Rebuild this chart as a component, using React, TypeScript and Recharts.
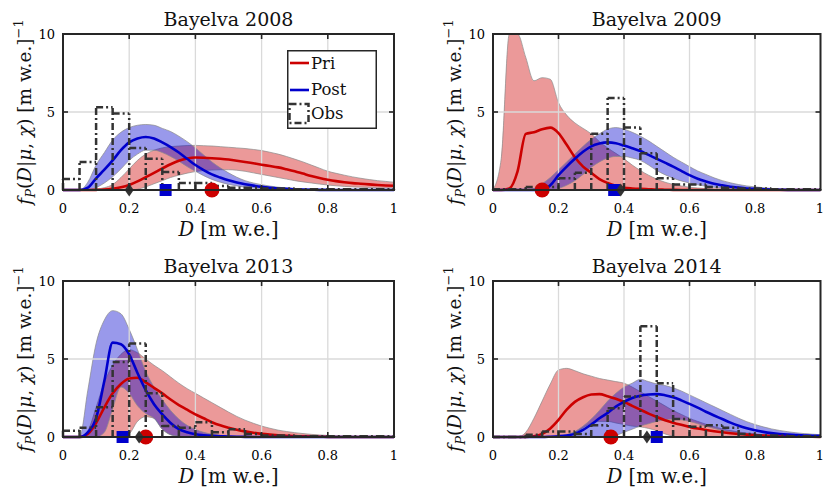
import React from "react";
import {
  ComposedChart,
  Area,
  Line,
  Scatter,
  XAxis,
  YAxis,
  ReferenceLine,
  Legend,
  Label,
} from "recharts";

// grid of D values the pdf curves are sampled on
const D = [0, 0.025, 0.05, 0.075, 0.1, 0.125, 0.15, 0.175, 0.2, 0.225, 0.25, 0.275, 0.3, 0.325, 0.35, 0.375, 0.4, 0.425, 0.45, 0.475, 0.5, 0.525, 0.55, 0.575, 0.6, 0.625, 0.65, 0.675, 0.7, 0.725, 0.75, 0.775, 0.8, 0.825, 0.85, 0.875, 0.9, 0.925, 0.95, 0.975, 1];
// histogram bin edges of the observations
const BIN_EDGES = [0, 0.05, 0.1, 0.15, 0.2, 0.25, 0.3, 0.35, 0.4, 0.45, 0.5, 0.55, 0.6, 0.65, 0.7, 0.75, 0.8, 0.85, 0.9, 0.95, 1];
const X_TICKS = [0, 0.2, 0.4, 0.6, 0.8, 1];
const Y_TICKS = [0, 5, 10];
const X_GRID = [0.2, 0.4, 0.6, 0.8];
const Y_GRID = [5];
const X_DOMAIN = [0, 1];
const Y_DOMAIN = [0, 10];

// ---- Bayelva 2008
const priMid08 = [0, 0, 0, 0, 0.01, 0.03, 0.08, 0.17, 0.32, 0.55, 0.82, 1.1, 1.38, 1.65, 1.88, 2.02, 2.08, 2.07, 2.04, 2.0, 1.95, 1.88, 1.8, 1.71, 1.62, 1.54, 1.45, 1.33, 1.2, 1.05, 0.9, 0.77, 0.66, 0.57, 0.5, 0.44, 0.4, 0.36, 0.32, 0.29, 0.27];
const priHi08 = [0, 0, 0, 0, 0.05, 0.15, 0.35, 0.8, 1.35, 1.9, 2.3, 2.55, 2.7, 2.78, 2.82, 2.85, 2.86, 2.84, 2.82, 2.78, 2.74, 2.7, 2.66, 2.6, 2.53, 2.42, 2.3, 2.15, 1.98, 1.8, 1.6, 1.4, 1.2, 1.07, 0.95, 0.84, 0.75, 0.67, 0.6, 0.55, 0.5];
const priLo08 = [0, 0, 0, 0, 0, 0, 0, 0, 0, 0.05, 0.2, 0.4, 0.6, 0.8, 0.95, 1.08, 1.18, 1.25, 1.28, 1.3, 1.3, 1.27, 1.2, 1.1, 1.0, 0.9, 0.8, 0.7, 0.6, 0.52, 0.45, 0.38, 0.32, 0.27, 0.23, 0.2, 0.18, 0.16, 0.14, 0.13, 0.12];
const postMid08 = [0, 0, 0, 0.15, 0.75, 1.3, 1.9, 2.55, 3.05, 3.3, 3.4, 3.3, 3.05, 2.75, 2.4, 2.0, 1.6, 1.28, 1.0, 0.8, 0.62, 0.48, 0.37, 0.28, 0.2, 0.14, 0.1, 0.07, 0.05, 0.03, 0.02, 0.01, 0.01, 0, 0, 0, 0, 0, 0, 0, 0];
const postHi08 = [0, 0, 0, 0.5, 1.6, 2.4, 3.2, 3.7, 4.0, 4.15, 4.2, 4.15, 3.95, 3.75, 3.45, 3.1, 2.7, 2.25, 1.8, 1.42, 1.1, 0.82, 0.6, 0.45, 0.34, 0.25, 0.18, 0.13, 0.09, 0.06, 0.04, 0.03, 0.02, 0.01, 0, 0, 0, 0, 0, 0, 0];
const postLo08 = [0, 0, 0, 0, 0.15, 0.45, 0.85, 1.35, 1.9, 2.3, 2.55, 2.55, 2.4, 2.15, 1.85, 1.5, 1.2, 0.92, 0.68, 0.5, 0.36, 0.26, 0.18, 0.12, 0.08, 0.05, 0.03, 0.02, 0.01, 0, 0, 0, 0, 0, 0, 0, 0, 0, 0, 0, 0];
const obs08 = [0.7, 1.8, 5.3, 4.9, 2.7, 2.0, 1.15, 0.45, 0.45, 0.25, 0.15, 0.15, 0.1, 0.1, 0.05, 0.05, 0.05, 0.05, 0.05, 0.05];

// ---- Bayelva 2009
const priMid09 = [0, 0, 0.1, 1.2, 3.6, 3.7, 3.9, 4.0, 3.65, 2.9, 2.1, 1.5, 1.1, 0.7, 0.45, 0.27, 0.15, 0.1, 0.07, 0.05, 0.03, 0.02, 0.01, 0, 0, 0, 0, 0, 0, 0, 0, 0, 0, 0, 0, 0, 0, 0, 0, 0, 0];
const priHi09 = [0, 2.0, 10, 10, 8.5, 7.0, 7.2, 7.1, 5.6, 4.8, 4.3, 3.95, 3.6, 3.1, 2.7, 2.35, 2.0, 1.6, 1.25, 0.95, 0.7, 0.5, 0.36, 0.26, 0.18, 0.13, 0.09, 0.06, 0.04, 0.03, 0.02, 0.01, 0, 0, 0, 0, 0, 0, 0, 0, 0];
const priLo09 = [0, 0, 0, 0, 0, 0, 0, 0, 0, 0, 0, 0, 0, 0, 0, 0, 0, 0, 0, 0, 0, 0, 0, 0, 0, 0, 0, 0, 0, 0, 0, 0, 0, 0, 0, 0, 0, 0, 0, 0, 0];
const postMid09 = [0, 0, 0, 0, 0, 0, 0, 0.3, 0.95, 1.5, 2.0, 2.45, 2.8, 2.98, 3.05, 3.0, 2.85, 2.68, 2.5, 2.25, 2.0, 1.75, 1.5, 1.22, 0.95, 0.72, 0.55, 0.4, 0.3, 0.21, 0.15, 0.1, 0.07, 0.05, 0.03, 0.02, 0.01, 0, 0, 0, 0];
const postHi09 = [0, 0, 0, 0, 0, 0.1, 0.4, 0.8, 1.3, 1.8, 2.3, 2.8, 3.25, 3.6, 3.9, 4.0, 3.9, 3.7, 3.45, 3.15, 2.8, 2.45, 2.1, 1.8, 1.5, 1.22, 1.0, 0.78, 0.6, 0.46, 0.35, 0.26, 0.2, 0.15, 0.1, 0.07, 0.05, 0.03, 0.02, 0.01, 0.01];
const postLo09 = [0, 0, 0, 0, 0, 0, 0, 0, 0.1, 0.3, 0.6, 1.0, 1.45, 1.8, 2.05, 2.15, 2.15, 2.05, 1.9, 1.6, 1.25, 0.98, 0.76, 0.58, 0.45, 0.33, 0.24, 0.17, 0.12, 0.08, 0.05, 0.03, 0.02, 0.01, 0, 0, 0, 0, 0, 0, 0];
const obs09 = [0.05, 0.05, 0.2, 0.2, 0.75, 1.1, 3.6, 5.9, 4.0, 2.35, 0.75, 0.35, 0.35, 0.2, 0.15, 0.1, 0.1, 0.05, 0.05, 0.05];

// ---- Bayelva 2013
const priMid13 = [0, 0, 0, 0.2, 0.9, 1.9, 2.8, 3.4, 3.75, 3.8, 3.5, 3.15, 2.8, 2.4, 2.05, 1.75, 1.45, 1.2, 0.95, 0.75, 0.6, 0.47, 0.36, 0.27, 0.2, 0.15, 0.11, 0.08, 0.06, 0.04, 0.03, 0.02, 0.01, 0, 0, 0, 0, 0, 0, 0, 0];
const priHi13 = [0, 0, 0, 0.4, 1.9, 3.5, 4.6, 5.3, 5.6, 5.4, 5.0, 4.6, 4.25, 3.85, 3.45, 3.1, 2.8, 2.5, 2.2, 1.9, 1.6, 1.32, 1.08, 0.88, 0.7, 0.56, 0.44, 0.35, 0.28, 0.22, 0.17, 0.13, 0.1, 0.07, 0.05, 0.04, 0.03, 0.02, 0.01, 0, 0];
const priLo13 = [0, 0, 0, 0, 0, 0, 0, 0, 0.2, 1.0, 1.3, 1.2, 0.5, 0.15, 0.05, 0, 0, 0, 0, 0, 0, 0, 0, 0, 0, 0, 0, 0, 0, 0, 0, 0, 0, 0, 0, 0, 0, 0, 0, 0, 0];
const postMid13 = [0, 0, 0, 0.3, 1.2, 3.6, 6.05, 5.95, 5.3, 4.1, 3.0, 2.1, 1.45, 0.9, 0.5, 0.3, 0.18, 0.11, 0.07, 0.05, 0.03, 0.02, 0.01, 0, 0, 0, 0, 0, 0, 0, 0, 0, 0, 0, 0, 0, 0, 0, 0, 0, 0];
const postHi13 = [0, 0, 0, 3.0, 6.0, 7.5, 8.1, 7.9, 6.9, 5.6, 4.2, 3.2, 2.4, 1.7, 1.15, 0.75, 0.48, 0.3, 0.18, 0.11, 0.07, 0.04, 0.02, 0.01, 0, 0, 0, 0, 0, 0, 0, 0, 0, 0, 0, 0, 0, 0, 0, 0, 0];
const postLo13 = [0, 0, 0, 0, 0, 0.3, 1.8, 3.2, 2.8, 2.0, 1.5, 1.2, 0.5, 0.15, 0.05, 0, 0, 0, 0, 0, 0, 0, 0, 0, 0, 0, 0, 0, 0, 0, 0, 0, 0, 0, 0, 0, 0, 0, 0, 0, 0];
const obs13 = [0.4, 0.6, 1.9, 4.8, 6.0, 2.8, 0.7, 0.6, 0.95, 0.3, 0.5, 0.2, 0.1, 0.1, 0.05, 0.05, 0.05, 0.05, 0.05, 0.05];

// ---- Bayelva 2014
const priMid14 = [0, 0, 0, 0, 0, 0.05, 0.2, 0.55, 1.1, 1.75, 2.25, 2.55, 2.72, 2.75, 2.62, 2.45, 2.25, 2.0, 1.75, 1.5, 1.28, 1.08, 0.92, 0.78, 0.65, 0.54, 0.45, 0.37, 0.3, 0.24, 0.19, 0.15, 0.12, 0.09, 0.07, 0.05, 0.04, 0.03, 0.02, 0.02, 0.01];
const priHi14 = [0, 0, 0, 0, 0.3, 1.2, 2.3, 3.4, 4.3, 4.4, 4.25, 4.05, 3.9, 3.75, 3.65, 3.55, 3.45, 3.2, 2.9, 2.6, 2.3, 2.0, 1.7, 1.45, 1.2, 1.0, 0.82, 0.66, 0.52, 0.41, 0.32, 0.25, 0.19, 0.14, 0.1, 0.07, 0.05, 0.04, 0.03, 0.02, 0.01];
const priLo14 = [0, 0, 0, 0, 0, 0, 0, 0, 0, 0.1, 0.3, 0.6, 0.9, 1.0, 1.0, 0.9, 0.8, 0.7, 0.65, 0.55, 0.4, 0.2, 0.05, 0, 0, 0, 0, 0, 0, 0, 0, 0, 0, 0, 0, 0, 0, 0, 0, 0, 0];
const postMid14 = [0, 0, 0, 0, 0, 0, 0, 0.02, 0.05, 0.1, 0.2, 0.45, 0.8, 1.2, 1.55, 1.95, 2.25, 2.5, 2.65, 2.72, 2.75, 2.68, 2.55, 2.35, 2.12, 1.88, 1.62, 1.38, 1.15, 0.92, 0.72, 0.56, 0.43, 0.33, 0.25, 0.19, 0.15, 0.12, 0.1, 0.08, 0.07];
const postHi14 = [0, 0, 0, 0, 0, 0, 0, 0.02, 0.05, 0.15, 0.35, 0.7, 1.15, 1.7, 2.3, 2.8, 3.2, 3.45, 3.7, 3.55, 3.4, 3.3, 3.15, 2.95, 2.7, 2.45, 2.2, 1.95, 1.7, 1.45, 1.2, 0.98, 0.8, 0.65, 0.52, 0.42, 0.34, 0.27, 0.22, 0.18, 0.15];
const postLo14 = [0, 0, 0, 0, 0, 0, 0, 0, 0, 0, 0, 0, 0, 0, 0, 0.1, 0.3, 0.5, 0.7, 0.85, 1.0, 1.1, 1.15, 1.1, 1.0, 0.85, 0.7, 0.55, 0.42, 0.32, 0.24, 0.17, 0.12, 0.08, 0.05, 0.03, 0.02, 0.01, 0, 0, 0];
const obs14 = [0, 0, 0.15, 0.35, 0.35, 0.2, 0.75, 1.85, 2.6, 7.1, 3.45, 1.15, 0.65, 0.75, 0.6, 0.2, 0.1, 0.1, 0.05, 0.05];

// medians shown as markers on the D axis: [prior, posterior, observed]
const medians08 = [0.45, 0.31, 0.2];
const medians09 = [0.15, 0.37, 0.39];
const medians13 = [0.25, 0.18, 0.23];
const medians14 = [0.36, 0.5, 0.47];

const RED = "#cc0000";
const BLUE = "#0000cc";
const INK = "#262626";
const HIST = "#333333";
const GRID = "#dadada";
const FONT = "'DejaVu Serif', serif";
const DASH = "7 3 2 3";
const TICK_PX = 5;

const PANELS = [
  { title: "Bayelva 2008", priMid: priMid08, priHi: priHi08, priLo: priLo08, postMid: postMid08, postHi: postHi08, postLo: postLo08, obs: obs08, med: medians08 },
  { title: "Bayelva 2009", priMid: priMid09, priHi: priHi09, priLo: priLo09, postMid: postMid09, postHi: postHi09, postLo: postLo09, obs: obs09, med: medians09 },
  { title: "Bayelva 2013", priMid: priMid13, priHi: priHi13, priLo: priLo13, postMid: postMid13, postHi: postHi13, postLo: postLo13, obs: obs13, med: medians13 },
  { title: "Bayelva 2014", priMid: priMid14, priHi: priHi14, priLo: priLo14, postMid: postMid14, postHi: postHi14, postLo: postLo14, obs: obs14, med: medians14 },
];

// histogram outline: every bin edge once, then every bin top, split by nulls
function histSegments(h: number[]) {
  const rows: { x: number; y: number | null }[] = [];
  BIN_EDGES.forEach((e, i) => {
    const top = Math.max(h[i - 1] ?? 0, h[i] ?? 0);
    rows.push({ x: e, y: 0 }, { x: e, y: top }, { x: e, y: null });
  });
  h.forEach((v, i) => {
    rows.push({ x: BIN_EDGES[i], y: v }, { x: BIN_EDGES[i + 1], y: v }, { x: BIN_EDGES[i + 1], y: null });
  });
  return rows;
}

const circleShape = (p: any) => <circle cx={p.cx} cy={p.cy} r={7.5} fill={RED} />;
const squareShape = (p: any) => <rect x={p.cx - 6} y={p.cy - 6} width={12} height={12} fill={BLUE} />;
const diamondShape = (p: any) => (
  <polygon
    points={`${p.cx},${p.cy - 6.5} ${p.cx + 4.5},${p.cy} ${p.cx},${p.cy + 6.5} ${p.cx - 4.5},${p.cy}`}
    fill={HIST}
  />
);

const xTick = (props: any) => (
  <text x={props.x} y={props.y} dy="0.71em" textAnchor="middle" fontFamily={FONT} fontSize={13} fill="#000">
    {props.payload.value}
  </text>
);
const yTick = (props: any) => (
  <text x={props.x} y={props.y} dy="0.355em" textAnchor="end" fontFamily={FONT} fontSize={13} fill="#000">
    {props.payload.value}
  </text>
);

const TitleLabel = (title: string) => (props: any) => {
  const vb = props.viewBox;
  return (
    <text x={vb.x + vb.width / 2} y={vb.y - 8} textAnchor="middle" fontFamily={FONT} fontSize={19} fill="#111">
      {title}
    </text>
  );
};

const XTitle = (props: any) => {
  const vb = props.viewBox;
  return (
    <text x={vb.x + vb.width / 2} y={vb.y + 46} textAnchor="middle" fontFamily={FONT} fontSize={19.5} fill="#111">
      <tspan fontStyle="italic">D</tspan>
      <tspan>{" [m w.e.]"}</tspan>
    </text>
  );
};

const YTitle = (props: any) => {
  const vb = props.viewBox;
  const X = vb.x + vb.width - 32;
  const Y = vb.y + vb.height / 2;
  return (
    <text x={X} y={Y} transform={`rotate(-90 ${X} ${Y})`} textAnchor="middle" fontFamily={FONT} fontSize={18.5} fill="#111">
      <tspan fontStyle="italic">f</tspan>
      <tspan fontStyle="italic" fontSize={13} dy={4}>P</tspan>
      <tspan dy={-4}>(</tspan>
      <tspan fontStyle="italic">D</tspan>
      <tspan>|</tspan>
      <tspan fontStyle="italic">μ</tspan>
      <tspan>{", "}</tspan>
      <tspan fontStyle="italic">χ</tspan>
      <tspan>{") [m w.e.]"}</tspan>
      <tspan fontSize={13} dy={-8}>−1</tspan>
    </text>
  );
};

const LegendBox = () => (
  <svg width={90} height={79} style={{ display: "block" }}>
    <rect x={0.75} y={0.75} width={88.5} height={77.5} fill="#fff" stroke={INK} strokeWidth={1.5} />
    <line x1={3} x2={22} y1={13} y2={13} stroke={RED} strokeWidth={2.6} />
    <text x={24} y={18.5} fontFamily={FONT} fontSize={16.5} fill="#111">Pri</text>
    <line x1={3} x2={22} y1={40} y2={40} stroke={BLUE} strokeWidth={2.6} />
    <text x={24} y={45} fontFamily={FONT} fontSize={16.5} fill="#111">Post</text>
    <rect x={2.5} y={54} width={19} height={19} fill="none" stroke={HIST} strokeWidth={2.5} strokeDasharray={DASH} />
    <text x={24} y={69} fontFamily={FONT} fontSize={16.5} fill="#111">Obs</text>
  </svg>
);

// axes box with inward ticks, laid over the plot rectangle of a panel
function FrameOverlay({ x0, y0, w, h, chartW, chartH }: { x0: number; y0: number; w: number; h: number; chartW: number; chartH: number }) {
  const fx = (v: number) => x0 + ((v - X_DOMAIN[0]) / (X_DOMAIN[1] - X_DOMAIN[0])) * w;
  const fy = (v: number) => y0 + h - ((v - Y_DOMAIN[0]) / (Y_DOMAIN[1] - Y_DOMAIN[0])) * h;
  return (
    <svg
      width={chartW}
      height={chartH}
      style={{ position: "absolute", left: 0, top: 0, pointerEvents: "none", overflow: "visible" }}
    >
      <g stroke={INK} strokeWidth={1.6}>
        {X_GRID.map((v) => (
          <g key={`x${v}`}>
            <line x1={fx(v)} x2={fx(v)} y1={y0 + h} y2={y0 + h - TICK_PX} />
            <line x1={fx(v)} x2={fx(v)} y1={y0} y2={y0 + TICK_PX} />
          </g>
        ))}
        {Y_GRID.map((v) => (
          <g key={`y${v}`}>
            <line x1={x0} x2={x0 + TICK_PX} y1={fy(v)} y2={fy(v)} />
            <line x1={x0 + w - TICK_PX} x2={x0 + w} y1={fy(v)} y2={fy(v)} />
          </g>
        ))}
      </g>
      <rect x={x0} y={y0} width={w} height={h} fill="none" stroke={INK} strokeWidth={2} />
    </svg>
  );
}

function Panel({ idx }: { idx: number }) {
  const p = PANELS[idx];
  const left = idx % 2 === 0;
  const top = idx < 2;

  const chartW = 412;
  const chartH = top ? 245 : 246;
  const yAxisW = left ? 63 : 81;
  const xAxisH = top ? 55 : 54;
  const margin = { top: top ? 34 : 36, right: left ? 18 : 3.5, bottom: 0, left: 0 };
  const plotW = chartW - yAxisW - margin.right;
  const plotH = chartH - xAxisH - margin.top;

  const rows = D.map((x, i) => ({
    x,
    pri: [p.priLo[i], p.priHi[i]],
    priMid: p.priMid[i],
    post: [p.postLo[i], p.postHi[i]],
    postMid: p.postMid[i],
  }));
  const hist = histSegments(p.obs);

  return (
    <div style={{ position: "relative", width: chartW, height: chartH }}>
      <ComposedChart width={chartW} height={chartH} data={rows} margin={margin}>
        {X_GRID.map((v) => (
          <ReferenceLine key={`gx${v}`} x={v} stroke={GRID} strokeWidth={1.3} />
        ))}
        {Y_GRID.map((v) => (
          <ReferenceLine key={`gy${v}`} y={v} stroke={GRID} strokeWidth={1.3} />
        ))}
        <ReferenceLine y={Y_DOMAIN[1]} stroke="none" label={TitleLabel(p.title)} />

        <Area dataKey="pri" type="monotone" fill={RED} fillOpacity={0.4} stroke="#8a8a8a" strokeWidth={0.7} isAnimationActive={false} />
        <Area dataKey="post" type="monotone" fill={BLUE} fillOpacity={0.4} stroke="#8a8a8a" strokeWidth={0.7} isAnimationActive={false} />
        <Line dataKey="priMid" type="monotone" stroke={RED} strokeWidth={2.6} dot={false} isAnimationActive={false} />
        <Line dataKey="postMid" type="monotone" stroke={BLUE} strokeWidth={2.6} dot={false} isAnimationActive={false} />
        <Line
          data={hist}
          dataKey="y"
          type="linear"
          stroke={HIST}
          strokeWidth={2.5}
          strokeDasharray={DASH}
          dot={false}
          connectNulls={false}
          isAnimationActive={false}
        />

        <XAxis
          dataKey="x"
          type="number"
          domain={X_DOMAIN}
          ticks={X_TICKS}
          height={xAxisH}
          tickSize={-5}
          tickMargin={19}
          axisLine={false}
          tickLine={false}
          tick={xTick}
        >
          <Label content={XTitle} />
        </XAxis>
        <YAxis
          type="number"
          domain={Y_DOMAIN}
          ticks={Y_TICKS}
          width={yAxisW}
          tickSize={-5}
          tickMargin={13}
          axisLine={false}
          tickLine={false}
          tick={yTick}
        >
          <Label content={YTitle} />
        </YAxis>

        <Scatter data={[{ x: p.med[0], y: 0 }]} dataKey="y" shape={circleShape} isAnimationActive={false} />
        <Scatter data={[{ x: p.med[1], y: 0 }]} dataKey="y" shape={squareShape} isAnimationActive={false} />
        <Scatter data={[{ x: p.med[2], y: 0 }]} dataKey="y" shape={diamondShape} isAnimationActive={false} />

        {idx === 0 && (
          <Legend
            layout="vertical"
            align="center"
            verticalAlign="middle"
            width={90}
            height={79}
            wrapperStyle={{ left: 287, top: 50, width: 90, height: 79 }}
            content={() => <LegendBox />}
          />
        )}
      </ComposedChart>
      <FrameOverlay x0={yAxisW} y0={margin.top} w={plotW} h={plotH} chartW={chartW} chartH={chartH} />
    </div>
  );
}

export default function App() {
  return (
    <div style={{ position: "absolute", left: 0, top: 0, width: 824, height: 491, background: "#fff", fontFamily: FONT }}>
      {PANELS.map((_, i) => (
        <div
          key={i}
          style={{ position: "absolute", left: i % 2 === 0 ? 0 : 412, top: i < 2 ? 0 : 245 }}
        >
          <Panel idx={i} />
        </div>
      ))}
    </div>
  );
}
